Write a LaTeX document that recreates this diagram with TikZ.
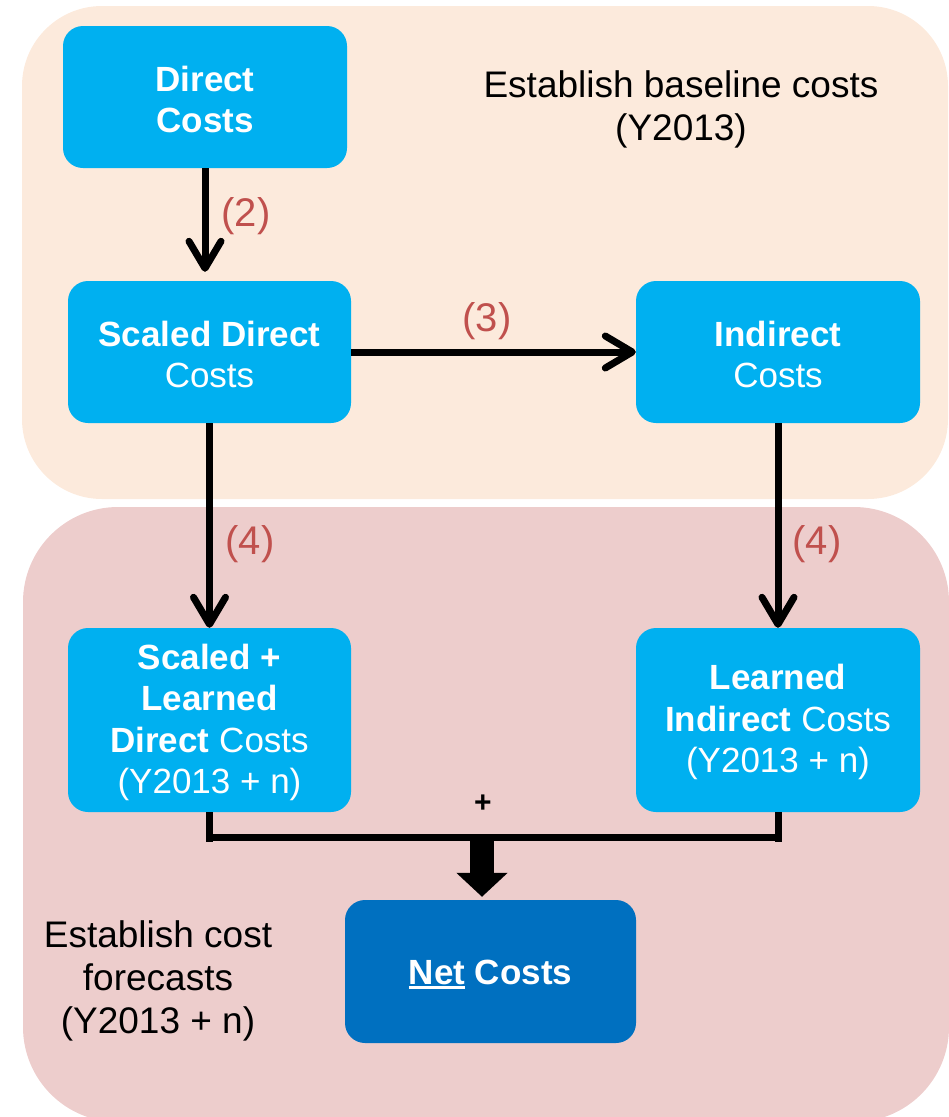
\documentclass[tikz,border=0pt]{standalone}
\usepackage{fontspec}
\setmainfont{Liberation Sans}
\usetikzlibrary{arrows.meta,calc}
\definecolor{peach}{HTML}{FCEADC}
\definecolor{pinkbg}{HTML}{EDCDCC}
\definecolor{lblue}{HTML}{00B0F0}
\definecolor{dblue}{HTML}{0070C0}
\definecolor{lblred}{HTML}{C0504D}
\newcommand\myul[1]{\setbox0\hbox{#1}\rlap{\rule[-5pt]{\wd0}{3pt}}\box0\relax}
\newcommand\tstrut{\vrule width 0pt height 30pt\relax}
\tikzset{
  costbox/.style={fill=lblue, rounded corners=20pt, text=white, align=center,
    inner sep=0pt, font=\fontsize{35}{41.5}\selectfont},
  netbox/.style={costbox, fill=dblue},
  flowarrow/.style={line width=7pt, draw=black,
    -{Straight Barb[length=27pt,width=32pt,line cap=round,line join=round]}},
  steplabel/.style={text=lblred, font=\fontsize{40}{46}\selectfont, inner sep=0pt},
  phaselabel/.style={text=black, align=center, inner sep=0pt, font=\fontsize{37}{43}\selectfont},
  joinline/.style={line width=7pt, draw=black},
}
\begin{document}
\begin{tikzpicture}[x=1pt,y=-1pt]
\useasboundingbox (0,0) rectangle (949,1117);
% backgrounds
\fill[peach, rounded corners=80pt] (22,6) rectangle (948,499);
\fill[pinkbg, rounded corners=95pt] (23,507) rectangle (949,1122);

% boxes
\node[costbox, minimum width=284pt, minimum height=142pt] (dc) at (205,97)
  {\tstrut\bfseries Direct\\\bfseries Costs};
\node[costbox, minimum width=283pt, minimum height=142pt] (sd) at (209.5,352)
  {\tstrut\bfseries Scaled Direct\\Costs};
\node[costbox, minimum width=284pt, minimum height=142pt] (ind) at (778,352)
  {\tstrut\bfseries Indirect\\Costs};
\node[costbox, minimum width=283pt, minimum height=184pt] (sld) at (209.5,720)
  {\tstrut\bfseries Scaled +\\\bfseries Learned\\\textbf{Direct} Costs\\(Y2013 + n)};
\node[costbox, minimum width=284pt, minimum height=184pt] (li) at (778,720)
  {\tstrut\bfseries Learned\\\textbf{Indirect} Costs\\(Y2013 + n)};
\node[netbox, minimum width=291pt, minimum height=143pt] (net) at (490.5,971.5)
  {\tstrut\bfseries\myul{Net} Costs};

% phase labels
\node[phaselabel] (top) at (681,109) {Establish baseline costs\\(Y2013)};
\node[phaselabel] (bot) at (158,981) {Establish cost\\forecasts\\(Y2013 + n)};

% arrows
\draw[flowarrow, shorten >=9pt] (dc.south) -- (dc.south |- sd.north);
\draw[flowarrow] (sd.east) -- (ind.west);
\draw[flowarrow] (sd.south) -- (sd.south |- sld.north);
\draw[flowarrow] (ind.south) -- (ind.south |- li.north);

% labels
\node[steplabel] (l2) at (246,216) {(2)};
\node[steplabel] (l3) at (487,321) {(3)};
\node[steplabel] (l4a) at (250,544) {(4)};
\node[steplabel] (l4b) at (817,544) {(4)};

% join bracket
\coordinate (jl) at ($(sld.south)+(0,30)$);
\coordinate (jr) at ($(li.south)+(0,30)$);
\draw[joinline] (sld.south) -- (jl);
\draw[joinline] (li.south) -- (jr);
\draw[joinline] ($(sld.south)+(0,25)$) -- ($(li.south)+(0,25)$);
\coordinate (jm) at (482,836);
\draw[line width=24pt, -{Triangle[length=24pt,width=50pt]}, shorten >=3pt] (jm) -- (jm |- net.north);
\node[font=\fontsize{30}{34}\selectfont\bfseries, inner sep=0pt] (plus) at (483,804) {+};
\end{tikzpicture}
\end{document}
